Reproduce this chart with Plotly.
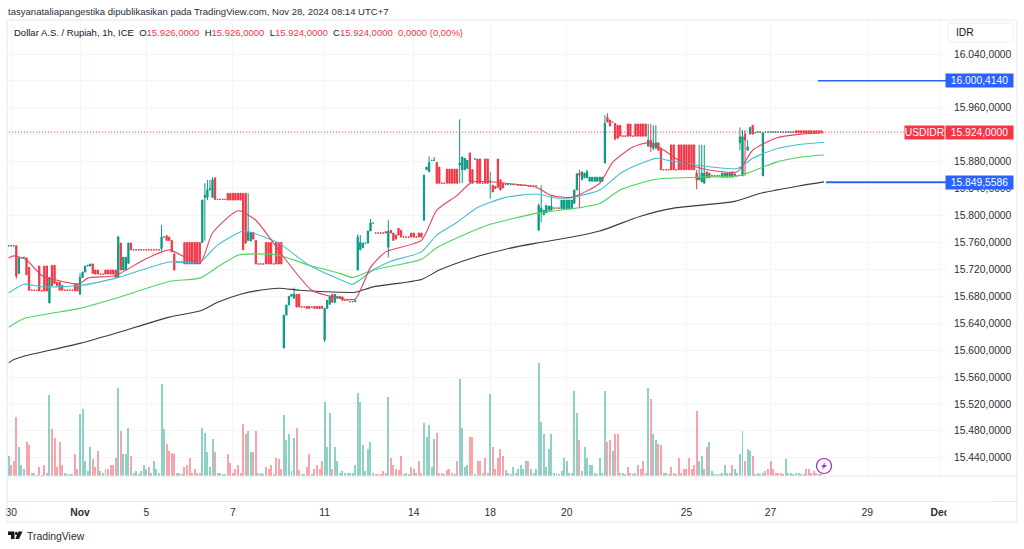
import plotly.graph_objects as go

# chart is laid out on the 1024x549 photo, so paper coords come from pixels
W, H = 1024, 549
UP, DOWN = "#089981", "#f23645"
VOL_UP, VOL_DOWN = "rgba(8,153,129,0.45)", "rgba(242,54,69,0.45)"
FONT = "Liberation Sans"

# hourly candles
opens = [
    15755, 15755, 15755, 15755, 15714, 15737, 15737, 15737, 15723, 15689, 15689, 15689,
    15725, 15688, 15725, 15725, 15670, 15726, 15726, 15701, 15701, 15696, 15689, 15689,
    15689, 15689, 15698, 15698, 15683, 15708, 15716, 15725, 15725, 15728, 15719, 15719,
    15713, 15713, 15719, 15719, 15719, 15719, 15719, 15708, 15759, 15719, 15719, 15729,
    15759, 15749, 15749, 15749, 15749, 15749, 15749, 15749, 15749, 15749, 15749, 15749,
    15751, 15768, 15770, 15768, 15763, 15743, 15731, 15731, 15731, 15760, 15760, 15760,
    15760, 15760, 15760, 15760, 15760, 15827, 15827, 15838, 15827, 15856, 15824, 15824,
    15824, 15824, 15833, 15833, 15833, 15833, 15833, 15833, 15833, 15833, 15763, 15762,
    15775, 15763, 15728, 15728, 15728, 15760, 15760, 15760, 15728, 15760, 15760, 15760,
    15603, 15652, 15667, 15680, 15677, 15683, 15683, 15664, 15664, 15665, 15665, 15664,
    15665, 15665, 15665, 15665, 15615, 15662, 15668, 15683, 15671, 15677, 15680, 15679,
    15674, 15674, 15672, 15672, 15672, 15719, 15749, 15752, 15759, 15759, 15777, 15789,
    15774, 15774, 15774, 15774, 15776, 15753, 15778, 15774, 15771, 15781, 15778, 15768,
    15768, 15768, 15774, 15774, 15768, 15774, 15774, 15793, 15868, 15865, 15882, 15882,
    15879, 15872, 15848, 15848, 15869, 15869, 15869, 15869, 15869, 15875, 15868, 15868,
    15870, 15893, 15868, 15884, 15884, 15884, 15848, 15884, 15884, 15850, 15845, 15843,
    15884, 15853, 15848, 15846, 15846, 15846, 15846, 15846, 15845, 15845, 15845, 15845,
    15844, 15844, 15844, 15844, 15778, 15805, 15801, 15804, 15808, 15808, 15811, 15811,
    15811, 15810, 15810, 15810, 15810, 15810, 15818, 15838, 15863, 15853, 15856, 15856,
    15851, 15851, 15851, 15851, 15851, 15851, 15878, 15946, 15942, 15939, 15937, 15934,
    15934, 15918, 15918, 15936, 15936, 15918, 15936, 15936, 15936, 15936, 15936, 15903,
    15912, 15900, 15900, 15908, 15900, 15868, 15868, 15868, 15905, 15905, 15868, 15905,
    15905, 15905, 15905, 15905, 15905, 15905, 15863, 15853, 15850, 15848, 15865, 15856,
    15859, 15859, 15859, 15859, 15857, 15857, 15857, 15857, 15865, 15859, 15859, 15908,
    15859, 15921, 15897, 15921, 15934, 15923, 15924, 15924, 15859, 15924, 15924, 15924,
    15924, 15924, 15924, 15924, 15924, 15924, 15924, 15924, 15924, 15926, 15926, 15926,
    15926, 15926, 15926, 15926, 15926, 15926, 15926, 15926,
]
closes = [
    15755, 15755, 15755, 15710, 15737, 15737, 15738, 15712, 15689, 15689, 15689, 15689,
    15688, 15688, 15688, 15688, 15708, 15696, 15699, 15696, 15689, 15689, 15689, 15689,
    15689, 15689, 15688, 15688, 15708, 15716, 15725, 15726, 15728, 15714, 15713, 15713,
    15713, 15713, 15713, 15713, 15713, 15713, 15708, 15768, 15719, 15738, 15738, 15759,
    15749, 15749, 15749, 15749, 15749, 15749, 15749, 15749, 15749, 15749, 15749, 15749,
    15768, 15768, 15763, 15763, 15746, 15719, 15731, 15731, 15731, 15728, 15728, 15728,
    15728, 15728, 15728, 15728, 15823, 15830, 15838, 15840, 15853, 15824, 15824, 15824,
    15824, 15824, 15823, 15823, 15823, 15823, 15823, 15823, 15749, 15759, 15775, 15775,
    15765, 15728, 15728, 15728, 15728, 15728, 15728, 15728, 15728, 15728, 15728, 15728,
    15652, 15667, 15680, 15683, 15683, 15664, 15664, 15664, 15664, 15662, 15662, 15664,
    15662, 15662, 15662, 15662, 15662, 15674, 15680, 15671, 15683, 15680, 15677, 15674,
    15674, 15674, 15672, 15672, 15674, 15768, 15760, 15759, 15759, 15777, 15789, 15789,
    15774, 15774, 15774, 15774, 15774, 15777, 15774, 15763, 15765, 15771, 15768, 15768,
    15768, 15768, 15768, 15768, 15768, 15768, 15768, 15860, 15872, 15879, 15882, 15882,
    15848, 15848, 15848, 15848, 15848, 15848, 15848, 15848, 15848, 15878, 15887, 15885,
    15882, 15850, 15848, 15884, 15848, 15848, 15848, 15848, 15848, 15851, 15835, 15840,
    15842, 15838, 15841, 15846, 15846, 15846, 15846, 15846, 15845, 15845, 15845, 15845,
    15844, 15844, 15844, 15844, 15815, 15811, 15808, 15815, 15814, 15814, 15811, 15811,
    15811, 15823, 15823, 15823, 15823, 15823, 15838, 15862, 15860, 15865, 15863, 15865,
    15857, 15857, 15857, 15857, 15857, 15857, 15937, 15939, 15933, 15939, 15914, 15915,
    15918, 15918, 15918, 15918, 15918, 15918, 15918, 15918, 15918, 15918, 15918, 15912,
    15902, 15908, 15908, 15897, 15868, 15868, 15868, 15868, 15868, 15868, 15868, 15868,
    15868, 15868, 15868, 15868, 15868, 15868, 15853, 15857, 15863, 15863, 15856, 15863,
    15859, 15859, 15859, 15859, 15863, 15863, 15863, 15863, 15857, 15862, 15859, 15917,
    15917, 15912, 15902, 15931, 15921, 15923, 15924, 15924, 15923, 15924, 15924, 15924,
    15924, 15924, 15924, 15924, 15924, 15924, 15924, 15924, 15924, 15923, 15923, 15923,
    15923, 15923, 15923, 15923, 15923, 15923, 15923, 15924,
]
# only candles with a visible wick are listed
wick_highs = {
    28: 15714, 43: 15770, 60: 15786, 77: 15848, 78: 15853, 79: 15853, 80: 15857, 94: 15833,
    112: 15693, 137: 15772, 138: 15771, 142: 15795, 149: 15793, 165: 15888, 167: 15887,
    177: 15943, 189: 15865, 208: 15818, 209: 15845, 213: 15830, 224: 15868, 227: 15868,
    234: 15949, 235: 15952, 251: 15936, 252: 15936, 253: 15934, 254: 15934, 270: 15868,
    271: 15905, 272: 15905, 273: 15905, 287: 15931, 288: 15927, 289: 15927, 290: 15912,
}
wick_lows = {
    3: 15706, 60: 15747, 77: 15763, 78: 15823, 94: 15763, 124: 15612, 149: 15738, 177: 15848,
    178: 15848, 189: 15825, 208: 15778, 209: 15790, 224: 15811, 238: 15912, 252: 15894,
    253: 15897, 270: 15839, 287: 15897, 289: 15859, 290: 15897,
}

volumes = [
    60, 33, 45, 178, 88, 33, 22, 103, 93, 10, 10, 4, 28, 4, 33, 10, 243, 140, 113, 27,
    103, 32, 10, 5, 5, 5, 66, 22, 185, 200, 44, 15, 88, 50, 27, 75, 15, 10, 22, 22,
    33, 33, 55, 265, 136, 65, 65, 145, 60, 10, 15, 5, 15, 33, 22, 28, 10, 44, 22, 10,
    275, 140, 97, 75, 70, 65, 10, 10, 5, 28, 33, 55, 10, 22, 10, 10, 145, 130, 72, 27,
    110, 72, 10, 10, 5, 5, 66, 38, 10, 22, 33, 10, 157, 125, 136, 72, 72, 136, 10, 10,
    5, 28, 22, 33, 5, 55, 50, 22, 184, 108, 125, 15, 115, 145, 17, 5, 5, 28, 66, 5,
    22, 33, 22, 44, 222, 88, 190, 22, 88, 44, 10, 15, 10, 10, 10, 10, 33, 250, 222, 93,
    15, 82, 103, 10, 5, 5, 5, 15, 10, 238, 55, 33, 22, 17, 60, 5, 10, 5, 28, 22,
    10, 44, 10, 158, 118, 152, 27, 110, 130, 10, 10, 5, 17, 22, 10, 5, 44, 292, 145, 28,
    33, 118, 118, 5, 44, 44, 10, 55, 10, 245, 88, 22, 55, 82, 60, 17, 10, 5, 28, 10,
    22, 33, 22, 44, 44, 22, 10, 22, 340, 162, 125, 28, 82, 125, 10, 10, 5, 15, 55, 44,
    10, 10, 255, 190, 108, 15, 88, 55, 33, 33, 10, 5, 55, 10, 255, 103, 108, 76, 125, 125,
    10, 10, 5, 28, 10, 5, 10, 33, 22, 44, 10, 265, 232, 125, 108, 97, 93, 10, 10, 5,
    28, 10, 5, 55, 10, 22, 22, 55, 22, 33, 195, 44, 60, 22, 88, 103, 15, 5, 5, 5,
    10, 33, 10, 10, 33, 22, 10, 66, 136, 44, 82, 76, 60, 5, 10, 5, 10, 15, 22, 44,
    22, 10, 10, 10, 5, 50, 10, 10, 5, 10, 10, 5, 5, 22, 22, 10, 15, 10, 5, 5,
]
# g / r per volume bar, same rows as above
volume_dirs = (
    "grrrgggrrg" "ggrgrggrrr"
    "rrggggrrgg" "gggrrrggrr"
    "rrrgrgggrg" "gggggrgggg"
    "ggrrrrgggr" "rrrrrrgggg"
    "grggggrrrr" "rrrrggrrgg"
    "grrrgrrrgg" "gggrrggrrg"
    "rrrrgggrgg" "gggggggggg"
    "ggggrrrrrg" "rrrrrgggrr"
    "grrgggggrr" "rgrrrgrggg"
    "grrgrrgrrg" "rrrrrggggg"
    "ggggrggggg" "gggggggggg"
    "ggggrggggg" "gggggrrgrr"
    "gggrrggrrr" "rgrggrrggg"
    "rrgrrrrrrr" "rgggrggggg"
    "ggggrggggr" "ggrggggrrr"
    "rrrrrggggg" "gggrrrrrgr"
)

# line indicators, given at the visible bends: bar index and price
ema_red_x = [0, 2, 7, 13, 25, 28, 31, 42, 53, 63, 75, 80, 90, 97, 108, 119, 130, 136, 142, 148, 162,
             168, 176, 182, 195, 207, 213, 221, 232, 237, 245, 251, 256, 263, 272, 286, 292, 301, 311, 320]
ema_red = [15737, 15740, 15734, 15711, 15699, 15699, 15707, 15711, 15734, 15749, 15729, 15774, 15807,
           15793, 15738, 15689, 15677, 15676, 15723, 15746, 15763, 15808, 15830, 15850, 15848, 15842,
           15830, 15827, 15848, 15879, 15902, 15908, 15900, 15882, 15870, 15865, 15897, 15915, 15921, 15923]
ema_cyan_x = [0, 6, 13, 28, 42, 63, 75, 82, 92, 96, 106, 118, 130, 135, 143, 150, 162, 168, 176, 184,
              195, 207, 215, 221, 232, 241, 254, 259, 270, 286, 292, 301, 311, 320]
ema_cyan = [15685, 15698, 15694, 15696, 15707, 15731, 15731, 15756, 15777, 15774, 15759, 15726, 15705,
            15698, 15719, 15732, 15746, 15771, 15790, 15812, 15827, 15832, 15826, 15827, 15838, 15865,
            15885, 15882, 15875, 15870, 15885, 15899, 15906, 15909]
ema_green_x = [0, 6, 28, 42, 63, 75, 83, 90, 96, 106, 118, 130, 135, 143, 162, 168, 181, 189, 208, 221,
               232, 240, 254, 270, 286, 290, 301, 311, 320]
ema_green = [15634, 15647, 15662, 15677, 15702, 15707, 15726, 15741, 15743, 15741, 15726, 15714, 15708,
             15719, 15735, 15752, 15775, 15787, 15804, 15810, 15818, 15838, 15854, 15857, 15859, 15863,
             15879, 15887, 15890]
ema_black_x = [0, 2, 6, 28, 42, 63, 75, 82, 91, 97, 106, 114, 130, 136, 143, 162, 169, 182, 195, 207,
               221, 232, 248, 261, 285, 295, 310, 320]
ema_black = [15581, 15586, 15591, 15610, 15625, 15649, 15658, 15671, 15683, 15688, 15692, 15689, 15686,
             15686, 15694, 15705, 15719, 15737, 15750, 15759, 15768, 15777, 15799, 15811, 15821, 15833,
             15844, 15850]

last_price = 15924
price_upper = 16000.4140
price_lower = 15849.5586

price_ticks = [16040, 16000, 15960, 15920, 15880, 15840, 15800, 15760, 15720, 15680, 15640, 15600,
               15560, 15520, 15480, 15440]
# 16.000 and 15.920 sit fully behind the price boxes
price_labels = ["16.040,0000", "", "15.960,0000", "", "15.880,0000", "15.840,0000",
                "15.800,0000", "15.760,0000", "15.720,0000", "15.680,0000", "15.640,0000", "15.600,0000",
                "15.560,0000", "15.520,0000", "15.480,0000", "15.440,0000"]
time_ticks = [1, 28, 54, 88, 124, 159, 189, 219, 266, 299, 337, 365.5]
time_labels = ["30", "<b>Nov</b>", "5", "7", "11", "14", "18", "20", "25", "27", "29", "<b>Dec</b>"]

header = "tasyanataliapangestika dipublikasikan pada TradingView.com, Nov 28, 2024 08:14 UTC+7"
legend_name = "Dollar A.S. / Rupiah, 1h, ICE"
legend_ohlc = [("O", "15.926,0000"), ("H", "15.926,0000"), ("L", "15.924,0000"), ("C", "15.924,0000")]
legend_change = "0,0000 (0,00%)"


def px(x):
    return x / W


def py(y):
    return 1 - y / H


n = len(closes)
bars = list(range(n))
highs = [wick_highs.get(i, max(opens[i], closes[i])) for i in bars]
lows = [wick_lows.get(i, min(opens[i], closes[i])) for i in bars]
vol_colors = [VOL_UP if d == "g" else VOL_DOWN for d in volume_dirs]

fig = go.Figure()
fig.add_trace(go.Bar(x=bars, y=volumes, yaxis="y2", width=0.78, marker=dict(color=vol_colors, line_width=0)))
fig.add_trace(go.Candlestick(
    x=bars, open=opens, high=highs, low=lows, close=closes, whiskerwidth=0,
    increasing=dict(line=dict(color=UP, width=1), fillcolor=UP),
    decreasing=dict(line=dict(color=DOWN, width=1), fillcolor=DOWN),
))
for xs, ys, color in [
    (ema_black_x, ema_black, "#3b3b3b"),
    (ema_green_x, ema_green, "#4fd35e"),
    (ema_cyan_x, ema_cyan, "#43bfd0"),
    (ema_red_x, ema_red, "#e8435a"),
]:
    fig.add_trace(go.Scatter(x=xs, y=ys, mode="lines", line=dict(color=color, width=1.1, shape="spline", smoothing=0.6)))

# current price and the two level lines
fig.add_trace(go.Scatter(x=[-1, 352], y=[last_price, last_price], mode="lines",
                         line=dict(color=DOWN, width=1, dash="1px,2px")))
fig.add_trace(go.Scatter(x=[317.6, 368], y=[price_upper, price_upper], mode="lines",
                         line=dict(color="#2962ff", width=1.6)))
fig.add_trace(go.Scatter(x=[320.8, 368], y=[price_lower, price_lower], mode="lines",
                         line=dict(color="#2962ff", width=2)))


def paper_line(x0, y0, x1, y1, color="#e6e8ee"):
    return dict(type="line", xref="paper", yref="paper", x0=px(x0), y0=py(y0), x1=px(x1), y1=py(y1),
                line=dict(color=color, width=1))


def path_shape(points, color):
    path = "M" + " L".join(f"{px(x):.5f},{py(y):.5f}" for x, y in points) + " Z"
    return dict(type="path", xref="paper", yref="paper", path=path, fillcolor=color, line_width=0)


shapes = [
    paper_line(7, 20, 1017, 20), paper_line(1017, 20, 1017, 522), paper_line(7, 522, 1017, 522),
    paper_line(7, 20, 7, 522), paper_line(7, 476, 1017, 476), paper_line(7, 501.5, 1017, 501.5),
    # IDR box
    dict(type="rect", xref="paper", yref="paper", x0=px(948), x1=px(1013), y0=py(23), y1=py(42),
         line=dict(color="#eceef2", width=1), fillcolor="white"),
    # lightning marker
    dict(type="circle", xref="paper", yref="paper", x0=px(816.5), x1=px(831.5), y0=py(473.5), y1=py(458.5),
         line=dict(color="#9c27b0", width=1.2), fillcolor="white"),
    path_shape([(826.5, 461.5), (821, 467), (823.8, 467), (821.5, 470.5), (827, 465), (824.2, 465)], "#9c27b0"),
    # TradingView logo
    path_shape([(8, 531.5), (14.5, 531.5), (14.5, 539), (11, 539), (11, 535), (8, 535)], "#131722"),
    dict(type="circle", xref="paper", yref="paper", x0=px(15), x1=px(17.8), y0=py(535), y1=py(531.8),
         fillcolor="#131722", line_width=0),
    path_shape([(18.5, 531.5), (22.5, 531.5), (19, 539), (15.3, 539)], "#131722"),
]


def note(text, x, y, size=10.3, color="#131722", anchor="left", yref="paper", **kw):
    return dict(text=text, x=px(x), y=y if yref == "y" else py(y), xref="paper", yref=yref, xanchor=anchor,
                yanchor="middle", showarrow=False, font=dict(family=FONT, size=size, color=color), **kw)


def price_box(text, x, y, width, color):
    return note(text, x, y, color="white", yref="y", bgcolor=color, width=width, height=13, align="center",
                borderpad=0)


legend_text = legend_name + "&nbsp;&nbsp;"
for letter, value in legend_ohlc:
    legend_text += f'{letter}<span style="color:{DOWN}">{value}</span>&nbsp;&nbsp;'
legend_text += f'<span style="color:{DOWN}">{legend_change}</span>'

annotations = [
    note(header, 6, 11.5, size=9.55, color="#2a2e39"),
    note(legend_text, 12, 32, size=9.5),
    note("IDR", 954, 33),
    note("TradingView", 24.5, 536, size=10.4, color="#2a2e39"),
    # hides the end of the Dec label, which the price scale cuts off in the original
    note("", 946, 511, bgcolor="white", width=40, height=16),
    price_box("16.000,4140", 945, price_upper, 67, "#2962ff"),
    price_box("15.849,5586", 945, price_lower, 67, "#2962ff"),
    price_box("USDIDR", 904, last_price, 39, DOWN),
    price_box("15.924,0000", 945, last_price, 67, DOWN),
]

fig.update_layout(
    width=W, height=H, autosize=False, showlegend=False, hovermode=False,
    margin=dict(l=0, r=0, t=0, b=0), paper_bgcolor="white", plot_bgcolor="white",
    font=dict(family=FONT, size=10.3, color="#2a2e39"),
    shapes=shapes, annotations=annotations, bargap=0,
    xaxis=dict(
        domain=[px(7), px(947)], range=[-0.655, 368.26], rangeslider=dict(visible=False), automargin=False,
        tickmode="array", tickvals=time_ticks, ticktext=time_labels, showgrid=True, gridcolor="#f4f5f7",
        zeroline=False, showline=False, ticks="outside", ticklen=27, tickcolor="rgba(0,0,0,0)",
        tickfont=dict(family=FONT, size=10.3, color="#2a2e39"),
    ),
    yaxis=dict(
        domain=[py(476), py(20)], range=[15412.9, 16090.6], side="right", tickmode="array", automargin=False,
        tickvals=price_ticks, ticktext=price_labels, showgrid=True, gridcolor="#f4f5f7", zeroline=False,
        showline=False, ticks="outside", ticklen=4, tickcolor="rgba(0,0,0,0)",
        tickfont=dict(family=FONT, size=10.3, color="#2a2e39"),
    ),
    yaxis2=dict(domain=[py(476), py(20)], range=[0, 1368], overlaying="y", visible=False),
)

fig.write_html("out.html", config={"displayModeBar": False}, post_script="document.body.style.margin='0';")
